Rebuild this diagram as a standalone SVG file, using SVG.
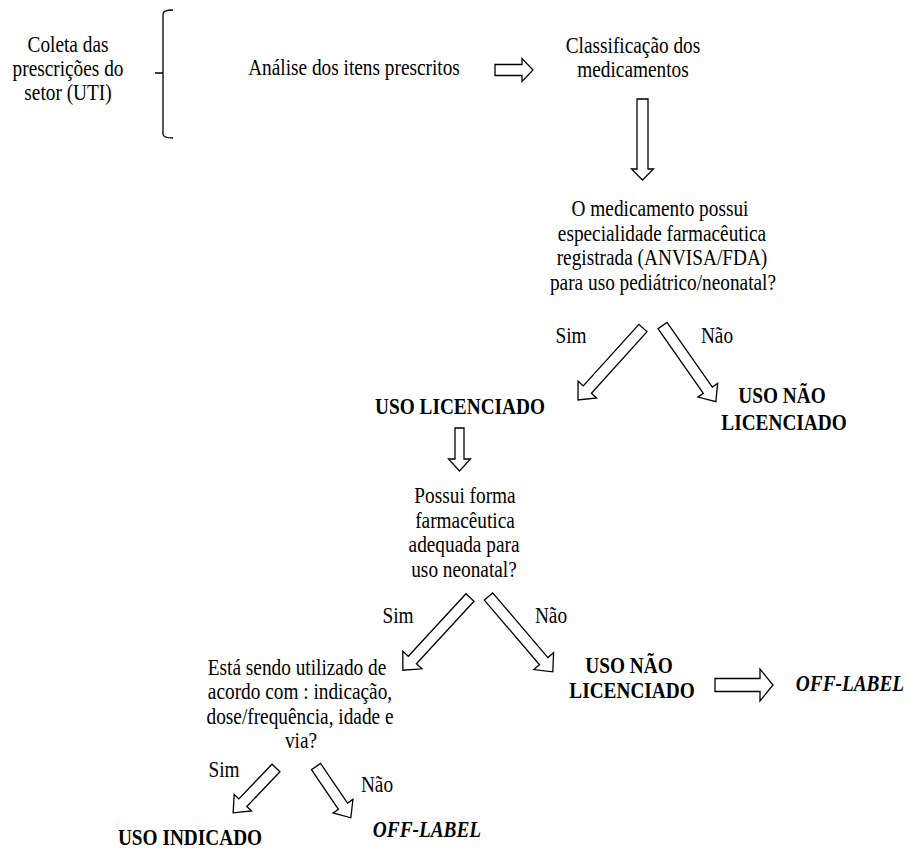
<svg xmlns="http://www.w3.org/2000/svg" width="907" height="852" viewBox="0 0 907 852">
<style>
text{font-size:19.3px;fill:#000;text-anchor:middle}
.b{font-weight:bold}
.bi{font-weight:bold;font-style:italic}
.arr{fill:#fff;stroke:#000;stroke-width:1.3;stroke-linejoin:miter}
.br{fill:none;stroke:#000;stroke-width:1.3}
</style>
<rect width="907" height="852" fill="#fff"/>
<g font-family="Liberation Serif, Tinos, Times New Roman, DejaVu Serif, serif">
<g id="coleta">
<text transform="translate(68,52) scale(1,1.17)">Coleta das</text>
<text transform="translate(68,76) scale(1,1.17)">prescrições do</text>
<text transform="translate(68,100) scale(1,1.17)">setor (UTI)</text>
</g>
<g id="analise"><text transform="translate(354,75) scale(1,1.17)">Análise dos itens prescritos</text></g>
<g id="classificacao">
<text transform="translate(633,53) scale(1,1.17)">Classificação dos</text>
<text transform="translate(633,77) scale(1,1.17)">medicamentos</text>
</g>
<g id="q1">
<text transform="translate(660,216) scale(1,1.17)">O medicamento possui</text>
<text transform="translate(662,241) scale(1,1.17)">especialidade farmacêutica</text>
<text transform="translate(662,265) scale(1,1.17)">registrada (ANVISA/FDA)</text>
<text transform="translate(663,290) scale(1,1.17)">para uso pediátrico/neonatal?</text>
</g>
<g id="sim1"><text transform="translate(571,343) scale(1,1.17)">Sim</text></g>
<g id="nao1"><text transform="translate(717,343) scale(1,1.17)">Não</text></g>
<g id="licenciado"><text class="b" transform="translate(460,414) scale(1,1.17)">USO LICENCIADO</text></g>
<g id="naolic1">
<text class="b" transform="translate(782,403) scale(1,1.17)">USO NÃO</text>
<text class="b" transform="translate(784,430) scale(1,1.17)">LICENCIADO</text>
</g>
<g id="q2">
<text transform="translate(465,503) scale(1,1.17)">Possui forma</text>
<text transform="translate(465,528) scale(1,1.17)">farmacêutica</text>
<text transform="translate(464,552) scale(1,1.17)">adequada para</text>
<text transform="translate(464,577) scale(1,1.17)">uso neonatal?</text>
</g>
<g id="sim2"><text transform="translate(398,623) scale(1,1.17)">Sim</text></g>
<g id="nao2"><text transform="translate(551,623) scale(1,1.17)">Não</text></g>
<g id="q3">
<text transform="translate(297,675) scale(1,1.17)">Está sendo utilizado de</text>
<text transform="translate(300,699) scale(1,1.17)">acordo com : indicação,</text>
<text transform="translate(300,724) scale(1,1.17)">dose/frequência, idade e</text>
<text transform="translate(301,748) scale(1,1.17)">via?</text>
</g>
<g id="naolic2">
<text class="b" transform="translate(629,673) scale(1,1.17)">USO NÃO</text>
<text class="b" transform="translate(632,698) scale(1,1.17)">LICENCIADO</text>
</g>
<g id="offlabel1"><text class="bi" transform="translate(850,691) scale(1,1.17)">OFF-LABEL</text></g>
<g id="sim3"><text transform="translate(224,777) scale(1,1.17)">Sim</text></g>
<g id="nao3"><text transform="translate(377,792) scale(1,1.17)">Não</text></g>
<g id="indicado"><text class="b" transform="translate(190,845) scale(1,1.17)">USO INDICADO</text></g>
<g id="offlabel2"><text class="bi" transform="translate(427,837) scale(1,1.17)">OFF-LABEL</text></g>
</g>
<g id="brace"><path class="br" d="M173,10 Q163,10 163,14 L163,134 Q163,138 173,138 M155,73 L163,73"/></g>
<g id="connectors">
<path class="arr" transform="translate(495,70)" d="M0,-5.5 L27,-5.5 L27,-11.5 L38,0 L27,11.5 L27,5.5 L0,5.5Z"/>
<path class="arr" transform="translate(642.5,99) rotate(90)" d="M0,-5.5 L70,-5.5 L70,-11 L81,0 L70,11 L70,5.5 L0,5.5Z"/>
<path class="arr" transform="translate(643,328) rotate(132.1)" d="M0,-5.5 L83,-5.5 L83,-12.5 L97,0 L83,12.5 L83,5.5 L0,5.5Z"/>
<path class="arr" transform="translate(662.5,325.5) rotate(55)" d="M0,-5.5 L79,-5.5 L79,-12 L93,0 L79,12 L79,5.5 L0,5.5Z"/>
<path class="arr" transform="translate(459.5,428) rotate(90)" d="M0,-4.5 L31,-4.5 L31,-11 L43,0 L31,11 L31,4.5 L0,4.5Z"/>
<path class="arr" transform="translate(470,597.5) rotate(132.7)" d="M0,-5.5 L85,-5.5 L85,-13 L99,0 L85,13 L85,5.5 L0,5.5Z"/>
<path class="arr" transform="translate(488.5,596.5) rotate(49.5)" d="M0,-5.5 L85,-5.5 L85,-13 L99,0 L85,13 L85,5.5 L0,5.5Z"/>
<path class="arr" transform="translate(715,685)" d="M0,-6.5 L45,-6.5 L45,-16 L58,0 L45,16 L45,6.5 L0,6.5Z"/>
<path class="arr" transform="translate(276,768) rotate(133.7)" d="M0,-5.5 L48,-5.5 L48,-12 L62,0 L48,12 L48,5.5 L0,5.5Z"/>
<path class="arr" transform="translate(316,766.5) rotate(55.8)" d="M0,-5.5 L48,-5.5 L48,-12 L62,0 L48,12 L48,5.5 L0,5.5Z"/>
</g>
</svg>
